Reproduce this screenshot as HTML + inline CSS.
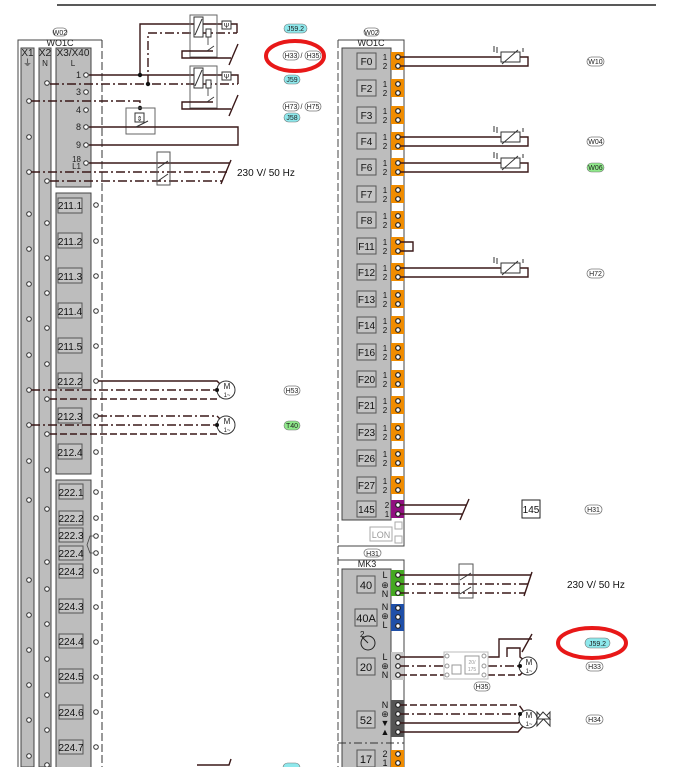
<!DOCTYPE html>
<html><head><meta charset="utf-8"><style>
html,body{margin:0;padding:0;background:#fff;}
svg{display:block;font-family:"Liberation Sans",sans-serif;}
.w{stroke:#3a1818;stroke-width:1.4;fill:none}
.dd{stroke:#3a1818;stroke-width:1.4;fill:none;stroke-dasharray:9 3 2 3}
.ds{stroke:#3a1818;stroke-width:1.4;fill:none;stroke-dasharray:7 3}
.c{fill:#fff;stroke:#333;stroke-width:1}
.lb{fill:#c4c4c4;stroke:#555;stroke-width:1}
.t{font-size:9px;fill:#111}
.p{fill:#fff;stroke:#777;stroke-width:.8}
.pt{font-size:7px;fill:#222;text-anchor:middle}
.tc{fill:#fff;stroke:#222;stroke-width:1.2}
.n{font-size:8px;fill:#222;text-anchor:middle}
</style></head><body>
<svg width="681" height="767" viewBox="0 0 681 767">
<line x1="57" y1="5" x2="656" y2="5" stroke="#222" stroke-width="1.5"/>

<!-- LEFT PANEL -->
<path d="M18 767 V40 H102" stroke="#444" fill="none" stroke-width="1"/>
<line x1="102" y1="40" x2="102" y2="767" stroke="#333" stroke-dasharray="8 3"/>
<line x1="18" y1="40" x2="18" y2="767" stroke="#444" stroke-dasharray="10 2"/>
<rect x="53" y="28" width="14" height="8" rx="4" class="p"/><text x="60" y="35" class="pt">W02</text>
<text x="60" y="46" class="n" style="font-size:9px">WO1C</text>
<rect x="21" y="48" width="13" height="719" fill="#bdbdbd" stroke="#444"/>
<rect x="39" y="48" width="12" height="719" fill="#bdbdbd" stroke="#444"/>
<rect x="56" y="48" width="35" height="139" fill="#bdbdbd" stroke="#444"/>
<text x="27.5" y="56" class="n" style="font-size:10px">X1</text>
<text x="27.5" y="66" class="n" style="font-size:9px">⏚</text>
<text x="45" y="56" class="n" style="font-size:10px">X2</text>
<text x="45" y="66" class="n">N</text>
<text x="73" y="56" class="n" style="font-size:10px">X3/X40</text>
<text x="73" y="66" class="n">L</text>
<g class="n" style="font-size:9px;text-anchor:end">
<text x="81" y="78">1</text><text x="81" y="95">3</text><text x="81" y="113">4</text><text x="81" y="130">8</text><text x="81" y="148">9</text><text x="81" y="162" style="font-size:8px">18</text><text x="81" y="169" style="font-size:8px">L1</text>
</g>
<g class="c"><circle cx="86" cy="75" r="2.3"/><circle cx="86" cy="92" r="2.3"/><circle cx="86" cy="110" r="2.3"/><circle cx="86" cy="127" r="2.3"/><circle cx="86" cy="145" r="2.3"/><circle cx="86" cy="163" r="2.3"/></g>
<g class="c">
<circle cx="29" cy="101" r="2.3"/><circle cx="29" cy="137" r="2.3"/><circle cx="29" cy="172" r="2.3"/><circle cx="29" cy="214" r="2.3"/><circle cx="29" cy="249" r="2.3"/><circle cx="29" cy="284" r="2.3"/><circle cx="29" cy="319" r="2.3"/><circle cx="29" cy="355" r="2.3"/><circle cx="29" cy="390" r="2.3"/><circle cx="29" cy="425" r="2.3"/><circle cx="29" cy="461" r="2.3"/><circle cx="29" cy="500" r="2.3"/><circle cx="29" cy="580" r="2.3"/><circle cx="29" cy="615" r="2.3"/><circle cx="29" cy="650" r="2.3"/><circle cx="29" cy="685" r="2.3"/><circle cx="29" cy="720" r="2.3"/><circle cx="29" cy="756" r="2.3"/>
<circle cx="47" cy="83" r="2.3"/><circle cx="47" cy="181" r="2.3"/><circle cx="47" cy="223" r="2.3"/><circle cx="47" cy="258" r="2.3"/><circle cx="47" cy="293" r="2.3"/><circle cx="47" cy="328" r="2.3"/><circle cx="47" cy="364" r="2.3"/><circle cx="47" cy="399" r="2.3"/><circle cx="47" cy="434" r="2.3"/><circle cx="47" cy="470" r="2.3"/><circle cx="47" cy="509" r="2.3"/><circle cx="47" cy="562" r="2.3"/><circle cx="47" cy="589" r="2.3"/><circle cx="47" cy="624" r="2.3"/><circle cx="47" cy="659" r="2.3"/><circle cx="47" cy="695" r="2.3"/><circle cx="47" cy="730" r="2.3"/><circle cx="47" cy="765" r="2.3"/>
</g>
<rect x="56" y="193" width="35" height="281" fill="#bdbdbd" stroke="#444"/>
<rect x="56" y="480" width="35" height="290" fill="#bdbdbd" stroke="#444"/>
<g font-size="10" fill="#111" text-anchor="middle">
<rect x="58" y="198" width="24" height="15" class="lb"/><text x="70" y="209">211.1</text>
<rect x="58" y="233" width="24" height="15" class="lb"/><text x="70" y="245">211.2</text>
<rect x="58" y="268" width="24" height="15" class="lb"/><text x="70" y="280">211.3</text>
<rect x="58" y="303" width="24" height="15" class="lb"/><text x="70" y="315">211.4</text>
<rect x="58" y="338" width="24" height="15" class="lb"/><text x="70" y="350">211.5</text>
<rect x="58" y="373" width="24" height="15" class="lb"/><text x="70" y="385">212.2</text>
<rect x="58" y="408" width="24" height="15" class="lb"/><text x="70" y="420">212.3</text>
<rect x="58" y="444" width="24" height="15" class="lb"/><text x="70" y="456">212.4</text>
<rect x="59" y="484" width="24" height="15" class="lb"/><text x="71" y="496">222.1</text>
<rect x="59" y="511" width="24" height="14" class="lb"/><text x="71" y="522">222.2</text>
<rect x="59" y="528" width="24" height="14" class="lb"/><text x="71" y="539">222.3</text>
<rect x="59" y="546" width="24" height="14" class="lb"/><text x="71" y="557">222.4</text>
<rect x="59" y="564" width="24" height="14" class="lb"/><text x="71" y="575">224.2</text>
<rect x="59" y="599" width="24" height="14" class="lb"/><text x="71" y="610">224.3</text>
<rect x="59" y="634" width="24" height="14" class="lb"/><text x="71" y="645">224.4</text>
<rect x="59" y="669" width="24" height="14" class="lb"/><text x="71" y="680">224.5</text>
<rect x="59" y="705" width="24" height="14" class="lb"/><text x="71" y="716">224.6</text>
<rect x="59" y="740" width="24" height="14" class="lb"/><text x="71" y="751">224.7</text>
</g>
<g class="c"><circle cx="96" cy="205" r="2.3"/><circle cx="96" cy="241" r="2.3"/><circle cx="96" cy="276" r="2.3"/><circle cx="96" cy="311" r="2.3"/><circle cx="96" cy="346" r="2.3"/><circle cx="96" cy="381" r="2.3"/><circle cx="96" cy="416" r="2.3"/><circle cx="96" cy="452" r="2.3"/><circle cx="96" cy="492" r="2.3"/><circle cx="96" cy="518" r="2.3"/><circle cx="96" cy="536" r="2.3"/><circle cx="96" cy="553" r="2.3"/><circle cx="96" cy="571" r="2.3"/><circle cx="96" cy="607" r="2.3"/><circle cx="96" cy="642" r="2.3"/><circle cx="96" cy="677" r="2.3"/><circle cx="96" cy="712" r="2.3"/><circle cx="96" cy="747" r="2.3"/></g>
<path d="M93 536 H90 L87 545 L90 553 H93" stroke="#444" fill="none" stroke-width=".8"/>

<!-- top wiring -->
<path class="w" d="M89 75 H238 V84"/>
<path class="w" d="M140 75 V24 H237 V33"/>
<path class="dd" d="M50 84 H238"/>
<path class="dd" d="M148 84 V33 H237"/>
<circle cx="140" cy="75" r="2.2" fill="#111"/><circle cx="148" cy="84" r="2.2" fill="#111"/>
<g stroke="#666" fill="none" stroke-width="1">
<rect x="190" y="15" width="27" height="42"/><rect x="190" y="66" width="27" height="42"/>
</g>
<g stroke="#333" fill="#fff" stroke-width="1">
<rect x="194" y="17" width="9" height="20"/><line x1="195" y1="35" x2="202" y2="19"/>
<rect x="206" y="29" width="5" height="8"/>
<rect x="222" y="21" width="9" height="8"/>
<rect x="194" y="68" width="9" height="20"/><line x1="195" y1="86" x2="202" y2="70"/>
<rect x="206" y="80" width="5" height="8"/>
<rect x="222" y="72" width="9" height="8"/>
</g>
<text x="226.5" y="28" class="pt" style="font-size:7px">Ψ</text><text x="226.5" y="79" class="pt" style="font-size:7px">Ψ</text>
<path class="w" d="M213 51 H182 V58 H231"/><path class="w" d="M238 44 L229 65"/>
<path class="w" d="M213 102 H182 V109 H231"/><path class="w" d="M238 95 L229 116"/>
<path d="M207 51 L214 46 M208 37 V45 M208 88 V96 M207 102 L214 97" stroke="#333" fill="none" stroke-width=".8"/>
<path class="dd" d="M31 101 H140 V108"/><circle cx="140" cy="108" r="2.2" fill="#111"/>
<rect x="126" y="108" width="29" height="26" fill="none" stroke="#666"/>
<rect x="135" y="113" width="9" height="9" fill="#fff" stroke="#333"/><text x="139.5" y="121" class="pt">⇕</text>
<path class="w" d="M89 127 H238 V145 H89"/>
<path d="M136 127 L148 121" stroke="#333"/>
<path class="w" d="M89 163 H230"/>
<path class="dd" d="M31 172 H228"/><path class="dd" d="M50 181 H222"/>
<path class="w" d="M231 160 L221 184"/>
<rect x="157" y="152" width="13" height="33" fill="#fff" stroke="#555" fill-opacity="0"/>
<path d="M158 168 L168 161 M158 181 L168 174" stroke="#333"/>
<text x="237" y="176" font-size="10" fill="#111">230 V/ 50 Hz</text>

<!-- motors left -->
<path class="w" d="M98 381 H217 L222 386"/>
<path class="dd" d="M31 390 H217"/>
<path class="ds" d="M50 399 H217 L222 395"/>
<circle cx="226" cy="390" r="9" fill="#fff" stroke="#333"/><circle cx="217" cy="390" r="2" fill="#111"/>
<text x="227" y="389" class="n" style="font-size:8px">M</text><text x="227" y="397" class="n" style="font-size:6px">1~</text>
<path class="dd" d="M98 416 H217 L222 421"/>
<path class="dd" d="M31 425 H217"/>
<path class="ds" d="M50 434 H217 L222 430"/>
<circle cx="226" cy="425" r="9" fill="#fff" stroke="#333"/><circle cx="217" cy="425" r="2" fill="#111"/>
<text x="227" y="424" class="n" style="font-size:8px">M</text><text x="227" y="432" class="n" style="font-size:6px">1~</text>
<path class="w" d="M197 765 H229 L231 759"/>

<!-- left labels -->
<rect x="284" y="24" width="23" height="9" rx="4.5" fill="#8ee8ec" stroke="#777" stroke-width=".6"/><text x="295.5" y="31" class="pt">J59.2</text>
<rect x="283" y="51" width="16" height="9" rx="4.5" class="p"/><text x="291" y="58" class="pt">H33</text>
<text x="301.5" y="58" class="pt">/</text>
<rect x="305" y="51" width="16" height="9" rx="4.5" class="p"/><text x="313" y="58" class="pt">H35</text>
<ellipse cx="295" cy="56" rx="29" ry="15" fill="none" stroke="#e81818" stroke-width="4"/>
<rect x="284" y="75" width="16" height="9" rx="4.5" fill="#8ee8ec" stroke="#777" stroke-width=".6"/><text x="292" y="82" class="pt">J59</text>
<rect x="283" y="102" width="16" height="9" rx="4.5" class="p"/><text x="291" y="109" class="pt">H73</text>
<text x="301.5" y="109" class="pt">/</text>
<rect x="305" y="102" width="16" height="9" rx="4.5" class="p"/><text x="313" y="109" class="pt">H75</text>
<rect x="284" y="113" width="16" height="9" rx="4.5" fill="#8ee8ec" stroke="#777" stroke-width=".6"/><text x="292" y="120" class="pt">J58</text>
<rect x="284" y="386" width="16" height="9" rx="4.5" class="p"/><text x="292" y="393" class="pt">H53</text>
<rect x="284" y="421" width="16" height="9" rx="4.5" fill="#8fe98a" stroke="#777" stroke-width=".6"/><text x="292" y="428" class="pt">T40</text>
<rect x="283" y="763" width="17" height="9" rx="4.5" fill="#8ee8ec" stroke="#777" stroke-width=".6"/>

<!-- RIGHT PANEL -->
<path d="M338 40 H404 V546 H338" stroke="#444" fill="none" stroke-width="1"/>
<line x1="338" y1="40" x2="338" y2="767" stroke="#444" stroke-dasharray="8 3"/>
<rect x="364" y="28" width="15" height="8" rx="4" class="p"/><text x="371.5" y="35" class="pt">W02</text>
<text x="371" y="46" class="n" style="font-size:9px">WO1C</text>
<rect x="342" y="48" width="49" height="472" fill="#bdbdbd" stroke="#444"/>
<g id="rows" font-size="10" fill="#111">
</g>
<!-- orange terminals -->
<g fill="#f08c00">
<rect x="391" y="52" width="13" height="18"/><rect x="391" y="79" width="13" height="18"/><rect x="391" y="106" width="13" height="18"/><rect x="391" y="132" width="13" height="18"/><rect x="391" y="158" width="13" height="18"/><rect x="391" y="185" width="13" height="18"/><rect x="391" y="211" width="13" height="18"/><rect x="391" y="237" width="13" height="18"/><rect x="391" y="263" width="13" height="18"/><rect x="391" y="290" width="13" height="18"/><rect x="391" y="316" width="13" height="18"/><rect x="391" y="343" width="13" height="18"/><rect x="391" y="370" width="13" height="18"/><rect x="391" y="396" width="13" height="18"/><rect x="391" y="423" width="13" height="18"/><rect x="391" y="449" width="13" height="18"/><rect x="391" y="476" width="13" height="18"/>
</g>
<rect x="391" y="500" width="13" height="18" fill="#900f80"/>
<g font-size="10" fill="#111" text-anchor="middle">
<rect x="357" y="53" width="19" height="16" class="lb"/><text x="366.5" y="65">F0</text>
<rect x="357" y="80" width="19" height="16" class="lb"/><text x="366.5" y="92">F2</text>
<rect x="357" y="107" width="19" height="16" class="lb"/><text x="366.5" y="119">F3</text>
<rect x="357" y="133" width="19" height="16" class="lb"/><text x="366.5" y="145">F4</text>
<rect x="357" y="159" width="19" height="16" class="lb"/><text x="366.5" y="171">F6</text>
<rect x="357" y="186" width="19" height="16" class="lb"/><text x="366.5" y="198">F7</text>
<rect x="357" y="212" width="19" height="16" class="lb"/><text x="366.5" y="224">F8</text>
<rect x="357" y="238" width="19" height="16" class="lb"/><text x="366.5" y="250">F11</text>
<rect x="357" y="264" width="19" height="16" class="lb"/><text x="366.5" y="276">F12</text>
<rect x="357" y="291" width="19" height="16" class="lb"/><text x="366.5" y="303">F13</text>
<rect x="357" y="317" width="19" height="16" class="lb"/><text x="366.5" y="329">F14</text>
<rect x="357" y="344" width="19" height="16" class="lb"/><text x="366.5" y="356">F16</text>
<rect x="357" y="371" width="19" height="16" class="lb"/><text x="366.5" y="383">F20</text>
<rect x="357" y="397" width="19" height="16" class="lb"/><text x="366.5" y="409">F21</text>
<rect x="357" y="424" width="19" height="16" class="lb"/><text x="366.5" y="436">F23</text>
<rect x="357" y="450" width="19" height="16" class="lb"/><text x="366.5" y="462">F26</text>
<rect x="357" y="477" width="19" height="16" class="lb"/><text x="366.5" y="489">F27</text>
<rect x="357" y="501" width="19" height="16" class="lb"/><text x="366.5" y="513">145</text>
</g>
<g font-size="8" fill="#111" text-anchor="middle">
<text x="385" y="60">1</text><text x="385" y="69">2</text>
<text x="385" y="87">1</text><text x="385" y="96">2</text>
<text x="385" y="114">1</text><text x="385" y="123">2</text>
<text x="385" y="140">1</text><text x="385" y="149">2</text>
<text x="385" y="166">1</text><text x="385" y="175">2</text>
<text x="385" y="193">1</text><text x="385" y="202">2</text>
<text x="385" y="219">1</text><text x="385" y="228">2</text>
<text x="385" y="245">1</text><text x="385" y="254">2</text>
<text x="385" y="271">1</text><text x="385" y="280">2</text>
<text x="385" y="298">1</text><text x="385" y="307">2</text>
<text x="385" y="324">1</text><text x="385" y="333">2</text>
<text x="385" y="351">1</text><text x="385" y="360">2</text>
<text x="385" y="378">1</text><text x="385" y="387">2</text>
<text x="385" y="404">1</text><text x="385" y="413">2</text>
<text x="385" y="431">1</text><text x="385" y="440">2</text>
<text x="385" y="457">1</text><text x="385" y="466">2</text>
<text x="385" y="484">1</text><text x="385" y="493">2</text>
<text x="387" y="508">2</text><text x="387" y="517">1</text>
</g>
<g class="tc">
<circle cx="398" cy="57" r="2.3"/><circle cx="398" cy="66" r="2.3"/>
<circle cx="398" cy="84" r="2.3"/><circle cx="398" cy="93" r="2.3"/>
<circle cx="398" cy="111" r="2.3"/><circle cx="398" cy="120" r="2.3"/>
<circle cx="398" cy="137" r="2.3"/><circle cx="398" cy="146" r="2.3"/>
<circle cx="398" cy="163" r="2.3"/><circle cx="398" cy="172" r="2.3"/>
<circle cx="398" cy="190" r="2.3"/><circle cx="398" cy="199" r="2.3"/>
<circle cx="398" cy="216" r="2.3"/><circle cx="398" cy="225" r="2.3"/>
<circle cx="398" cy="242" r="2.3"/><circle cx="398" cy="251" r="2.3"/>
<circle cx="398" cy="268" r="2.3"/><circle cx="398" cy="277" r="2.3"/>
<circle cx="398" cy="295" r="2.3"/><circle cx="398" cy="304" r="2.3"/>
<circle cx="398" cy="321" r="2.3"/><circle cx="398" cy="330" r="2.3"/>
<circle cx="398" cy="348" r="2.3"/><circle cx="398" cy="357" r="2.3"/>
<circle cx="398" cy="375" r="2.3"/><circle cx="398" cy="384" r="2.3"/>
<circle cx="398" cy="401" r="2.3"/><circle cx="398" cy="410" r="2.3"/>
<circle cx="398" cy="428" r="2.3"/><circle cx="398" cy="437" r="2.3"/>
<circle cx="398" cy="454" r="2.3"/><circle cx="398" cy="463" r="2.3"/>
<circle cx="398" cy="481" r="2.3"/><circle cx="398" cy="490" r="2.3"/>
<circle cx="398" cy="505" r="2.3"/><circle cx="398" cy="514" r="2.3"/>
</g>
<!-- sensors -->
<g>
<path class="w" d="M400 57 H528 V66 H400"/><rect x="501" y="52" width="19" height="10" fill="#fff" stroke="#333"/><path d="M502 64 L518 50 M494 46 V52 M497 47 V53 M523 52 V48" stroke="#333" fill="none"/>
<path class="w" d="M400 137 H528 V146 H400"/><rect x="501" y="132" width="19" height="10" fill="#fff" stroke="#333"/><path d="M502 144 L518 130 M494 126 V132 M497 127 V133 M523 132 V128" stroke="#333" fill="none"/>
<path class="w" d="M400 163 H528 V172 H400"/><rect x="501" y="158" width="19" height="10" fill="#fff" stroke="#333"/><path d="M502 170 L518 156 M494 152 V158 M497 153 V159 M523 158 V154" stroke="#333" fill="none"/>
<path class="w" d="M400 268 H528 V277 H400"/><rect x="501" y="263" width="19" height="10" fill="#fff" stroke="#333"/><path d="M502 275 L518 261 M494 257 V263 M497 258 V264 M523 263 V259" stroke="#333" fill="none"/>
<path class="w" d="M400 242 H413 V251 H400"/>
<path class="w" d="M400 505 H467 M400 514 H462 M469 499 L460 520"/>
</g>
<rect x="522" y="500" width="18" height="18" fill="#fff" stroke="#222"/><text x="531" y="513" font-size="10" text-anchor="middle" fill="#111">145</text>
<rect x="585" y="505" width="17" height="9" rx="4.5" class="p"/><text x="593.5" y="512" class="pt">H31</text>
<rect x="587" y="57" width="17" height="9" rx="4.5" class="p"/><text x="595.5" y="64" class="pt">W10</text>
<rect x="587" y="137" width="17" height="9" rx="4.5" class="p"/><text x="595.5" y="144" class="pt">W04</text>
<rect x="587" y="163" width="17" height="9" rx="4.5" fill="#8fe98a" stroke="#777" stroke-width=".6"/><text x="595.5" y="170" class="pt">W06</text>
<rect x="587" y="269" width="17" height="9" rx="4.5" class="p"/><text x="595.5" y="276" class="pt">H72</text>
<rect x="370" y="527" width="22" height="14" fill="#fff" stroke="#aaa"/><text x="381" y="538" font-size="9" fill="#999" text-anchor="middle">LON</text>
<rect x="395" y="522" width="7" height="7" fill="#fff" stroke="#aaa"/><rect x="395" y="536" width="7" height="7" fill="#fff" stroke="#aaa"/>
<rect x="364" y="549" width="17" height="8" rx="4" class="p"/><text x="372.5" y="556" class="pt">H31</text>

<!-- MK3 -->
<path d="M338 560 H404 V767" stroke="#444" fill="none" stroke-width="1"/>
<text x="367" y="567" class="n" style="font-size:9px">MK3</text>
<rect x="342" y="569" width="49" height="200" fill="#bdbdbd" stroke="#444"/>
<line x1="338" y1="743" x2="404" y2="743" stroke="#333" stroke-dasharray="8 3 2 3"/>
<rect x="391" y="570" width="13" height="26" fill="#45a822"/>
<rect x="391" y="604" width="13" height="27" fill="#1f4fa8"/>
<rect x="391" y="652" width="13" height="28" fill="#c8c8c8"/>
<rect x="391" y="700" width="13" height="37" fill="#555"/>
<rect x="391" y="750" width="13" height="17" fill="#f08c00"/>
<g font-size="11" fill="#111" text-anchor="middle">
<rect x="357" y="576" width="18" height="17" class="lb"/><text x="366" y="589">40</text>
<rect x="355" y="609" width="22" height="17" class="lb"/><text x="366" y="622">40A</text>
<rect x="357" y="658" width="18" height="17" class="lb"/><text x="366" y="671">20</text>
<rect x="357" y="711" width="18" height="17" class="lb"/><text x="366" y="724">52</text>
<rect x="357" y="750" width="18" height="17" class="lb"/><text x="366" y="763">17</text>
</g>
<g font-size="9" fill="#111" text-anchor="middle">
<text x="385" y="578">L</text><text x="385" y="588">⊕</text><text x="385" y="597">N</text>
<text x="385" y="610">N</text><text x="385" y="619">⊕</text><text x="385" y="628">L</text>
<text x="385" y="660">L</text><text x="385" y="669">⊕</text><text x="385" y="678">N</text>
<text x="385" y="708">N</text><text x="385" y="717">⊕</text><text x="385" y="726">▼</text><text x="385" y="735">▲</text>
<text x="385" y="757">2</text><text x="385" y="766">1</text>
</g>
<circle cx="368" cy="643" r="7" fill="none" stroke="#222"/><path d="M362 637 L368 643" stroke="#222"/><text x="360" y="637" font-size="8" fill="#111">2</text>
<g class="tc">
<circle cx="398" cy="575" r="2.3"/><circle cx="398" cy="584" r="2.3"/><circle cx="398" cy="593" r="2.3"/>
<circle cx="398" cy="608" r="2.3"/><circle cx="398" cy="617" r="2.3"/><circle cx="398" cy="626" r="2.3"/>
<circle cx="398" cy="657" r="2.3"/><circle cx="398" cy="666" r="2.3"/><circle cx="398" cy="675" r="2.3"/>
<circle cx="398" cy="705" r="2.3"/><circle cx="398" cy="714" r="2.3"/><circle cx="398" cy="723" r="2.3"/><circle cx="398" cy="732" r="2.3"/>
<circle cx="398" cy="754" r="2.3"/><circle cx="398" cy="763" r="2.3"/>
</g>
<path class="w" d="M400 575 H531"/><path class="dd" d="M400 584 H528"/><path class="dd" d="M400 593 H525"/><path class="w" d="M532 572 L524 596"/>
<rect x="459" y="564" width="14" height="34" fill="none" stroke="#555"/><path d="M460 580 L471 573 M460 594 L471 587" stroke="#333"/>
<text x="567" y="588" font-size="10" fill="#111">230 V/ 50 Hz</text>
<!-- 20 -->
<path class="w" d="M400 657 H444 M488 657 H499 V639 H532"/>
<path class="w" d="M507 657 V648 H520 V657 L524 660"/>
<path class="w" d="M532 634 L522 652"/>
<path class="dd" d="M400 666 H444 M488 666 H520"/>
<path class="ds" d="M400 675 H444 M488 675 H520 L524 671"/>
<rect x="444" y="652" width="44" height="27" fill="#fff" stroke="#bbb"/>
<g fill="#fff" stroke="#999"><circle cx="447" cy="656" r="2"/><circle cx="447" cy="666" r="2"/><circle cx="447" cy="675" r="2"/><circle cx="484" cy="656" r="2"/><circle cx="484" cy="666" r="2"/><circle cx="484" cy="675" r="2"/>
<rect x="465" y="656" width="14" height="18"/><rect x="452" y="665" width="9" height="9"/></g>
<text x="472" y="664" font-size="5" fill="#999" text-anchor="middle">20/</text><text x="472" y="671" font-size="5" fill="#999" text-anchor="middle">175</text>
<circle cx="528" cy="666" r="9" fill="#fff" stroke="#333"/><circle cx="520" cy="666" r="2" fill="#111"/>
<text x="529" y="665" class="n" style="font-size:8px">M</text><text x="529" y="673" class="n" style="font-size:6px">1~</text>
<rect x="474" y="682" width="16" height="9" rx="4.5" class="p"/><text x="482" y="689" class="pt">H35</text>
<rect x="585" y="638" width="25" height="10" rx="5" fill="#8ee8ec" stroke="#777" stroke-width=".6"/><text x="597.5" y="646" class="pt">J59.2</text>
<ellipse cx="592" cy="643" rx="34" ry="15" fill="none" stroke="#e81818" stroke-width="4"/>
<rect x="586" y="662" width="17" height="9" rx="4.5" class="p"/><text x="594.5" y="669" class="pt">H33</text>
<!-- 52 -->
<path class="ds" d="M400 705 H519 L524 712"/><path class="dd" d="M400 714 H519"/>
<path class="w" d="M400 723 H518 L523 720 M400 732 H518 L524 725"/>
<circle cx="528" cy="719" r="9" fill="#fff" stroke="#333"/><circle cx="520" cy="714" r="2" fill="#111"/>
<text x="529" y="718" class="n" style="font-size:8px">M</text><text x="529" y="726" class="n" style="font-size:6px">1~</text>
<path d="M537 712 L550 726 V712 L537 726 Z" fill="#fff" stroke="#333"/><path d="M543 712 L537 719 L550 719 Z" fill="#fff" stroke="#333"/>
<rect x="586" y="715" width="17" height="9" rx="4.5" class="p"/><text x="594.5" y="722" class="pt">H34</text>
</svg>
</body></html>
